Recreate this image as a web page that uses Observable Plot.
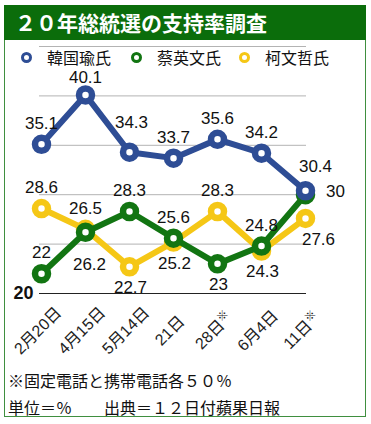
<!DOCTYPE html>
<html>
<head>
<meta charset="utf-8">
<script src="https://cdn.jsdelivr.net/npm/d3@7"></script>
<script src="https://cdn.jsdelivr.net/npm/@observablehq/plot@0.6"></script>
<style>
  body { margin: 0; background: #fff; }
  #wrap { position: relative; width: 371px; height: 424px; overflow: hidden; background: #fff;
          font-family: "Liberation Sans", "Noto Sans CJK JP", sans-serif; }
  .abs { position: absolute; }
  #frame { left: 4px; top: 5px; width: 362px; height: 412px; box-sizing: border-box; border: 1.5px solid #3f8f3f; }
  #band { left: 4px; top: 5px; width: 362px; height: 35px; background: #0b6d0b; }
  #title { left: 15px; top: 5px; height: 35px; line-height: 35px; color: #fff; font-size: 21px; font-weight: bold;
           font-family: "Noto Sans CJK JP", sans-serif; white-space: nowrap; }
  .lg { top: 48px; height: 18px; line-height: 18px; font-size: 16px; color: #111; white-space: nowrap;
        font-family: "Noto Sans CJK JP", sans-serif; }
  .mk { position: absolute; width: 5px; height: 5px; border-radius: 50%; border-style: solid; border-width: 3px; background: #fff; }
  .foot { left: 8px; height: 20px; line-height: 20px; font-size: 16px; color: #111; white-space: nowrap;
          font-family: "Noto Sans CJK JP", sans-serif; }
</style>
</head>
<body>
<div id="wrap">
  <div id="chart" class="abs" style="left:0;top:0"></div>
  <div id="frame" class="abs"></div>
  <div id="band" class="abs"></div>
  <div id="title" class="abs"></div>
  <div id="legend"></div>
  <div id="foot1" class="abs foot" style="top:370px"></div>
  <div id="foot2" class="abs foot" style="top:397px"></div>
</div>
<script>
// ---- data ----
const titleText = "２０年総統選の支持率調査";
const dates = ["2月20日", "4月15日", "5月14日", "21日", "28日※", "6月4日", "11日※"];
const seriesNames = ["韓国瑜氏", "蔡英文氏", "柯文哲氏"];
const han  = [35.1, 40.1, 34.3, 33.7, 35.6, 34.2, 30.4];
const tsai = [22, 26.2, 28.3, 25.6, 23, 24.8, 30];
const ko   = [28.6, 26.5, 22.7, 25.2, 28.3, 24.3, 27.6];
const yTicks = [20, 25, 30, 35, 40, 45];
const yLabelTicks = [20];
const note1 = "※固定電話と携帯電話各５０％";
const note2 = "単位＝％　　出典＝１２日付蘋果日報";

// label placement codes (style, not data)
const hanPlace  = ["n", "nl", "nn", "n", "n", "n", "ne"];
const tsaiPlace = ["n", "ss", "n", "n", "s", "n", "e"];
const koPlace   = ["n", "n", "s", "s", "n", "s", "se"];
const offsets = {
  n:  [0, -21], nl: [0, -17], nn: [2, -30], s: [1, 21], ss: [4, 32],
  ne: [10, -24], e: [30, -3], se: [13, 21]
};
const colors = ["#2e4d95", "#127512", "#f5c716"];

// ---- text blocks ----
document.getElementById("title").textContent = titleText;
document.getElementById("foot1").textContent = note1;
document.getElementById("foot2").textContent = note2;
const lgX = [[21, 47], [131, 157], [239, 265]];
const legend = document.getElementById("legend");
seriesNames.forEach((name, i) => {
  const m = document.createElement("div");
  m.className = "mk";
  m.style.left = lgX[i][0] + "px";
  m.style.top = "52px";
  m.style.borderColor = colors[i];
  legend.appendChild(m);
  const t = document.createElement("div");
  t.className = "abs lg";
  t.style.left = lgX[i][1] + "px";
  t.textContent = name;
  legend.appendChild(t);
});

// ---- rows ----
const mkRows = (vals, place, s) => vals.map((v, i) => ({date: dates[i], value: v, place: place[i], series: s}));
const rowsHan = mkRows(han, hanPlace, 0);
const rowsTsai = mkRows(tsai, tsaiPlace, 1);
const rowsKo = mkRows(ko, koPlace, 2);

const seriesMarks = (rows, color) => [
  Plot.line(rows, {x: "date", y: "value", stroke: color, strokeWidth: 6, strokeLinejoin: "round", strokeLinecap: "round"}),
  Plot.dot(rows, {x: "date", y: "value", r: 6.5, fill: "#fff", stroke: color, strokeWidth: 6.5})
];
const labelMarks = (rows) => Object.keys(offsets).map(code =>
  Plot.text(rows.filter(r => r.place === code), {
    x: "date", y: "value", text: d => String(d.value),
    dx: offsets[code][0], dy: offsets[code][1],
    fontSize: 17, fill: "#111", fontFamily: "Liberation Sans, Arial, sans-serif"
  })
);

const chart = Plot.plot({
  width: 371,
  height: 365,
  marginLeft: 39,
  marginRight: 65,
  marginTop: 46,
  marginBottom: 72,
  style: {background: "transparent", overflow: "visible"},
  x: {type: "point", domain: dates, padding: 0, axis: null},
  y: {domain: [20, 45], axis: null},
  marks: [
    Plot.ruleY(yTicks.filter(t => t !== 20), {stroke: "#b3b3b3", strokeWidth: 1}),
    Plot.ruleY([20], {stroke: "#222", strokeWidth: 1}),
    Plot.text(yLabelTicks, {y: d => d, text: d => String(d), frameAnchor: "left", textAnchor: "end", dx: -6,
      fontSize: 18, fontWeight: "bold", fill: "#111", fontFamily: "Liberation Sans, Arial, sans-serif"}),
    Plot.text(dates, {x: d => d, text: d => d, frameAnchor: "bottom", dy: 41, rotate: -45, textAnchor: "middle",
      fontSize: 16, fill: "#222", fontFamily: "Liberation Sans, Noto Sans CJK JP, sans-serif"}),
    ...seriesMarks(rowsKo, colors[2]),
    ...seriesMarks(rowsTsai, colors[1]),
    ...seriesMarks(rowsHan, colors[0]),
    ...labelMarks(rowsKo),
    ...labelMarks(rowsTsai),
    ...labelMarks(rowsHan)
  ]
});

// superscript the ※ in date labels
chart.querySelectorAll("text").forEach(t => {
  const s = t.textContent;
  if (s.endsWith("※") && s.length > 1) {
    t.textContent = s.slice(0, -1);
    const ts = document.createElementNS("http://www.w3.org/2000/svg", "tspan");
    ts.setAttribute("font-size", "11");
    ts.setAttribute("dy", "-6");
    ts.textContent = "※";
    t.appendChild(ts);
  }
});

document.getElementById("chart").appendChild(chart);
</script>
</body>
</html>
